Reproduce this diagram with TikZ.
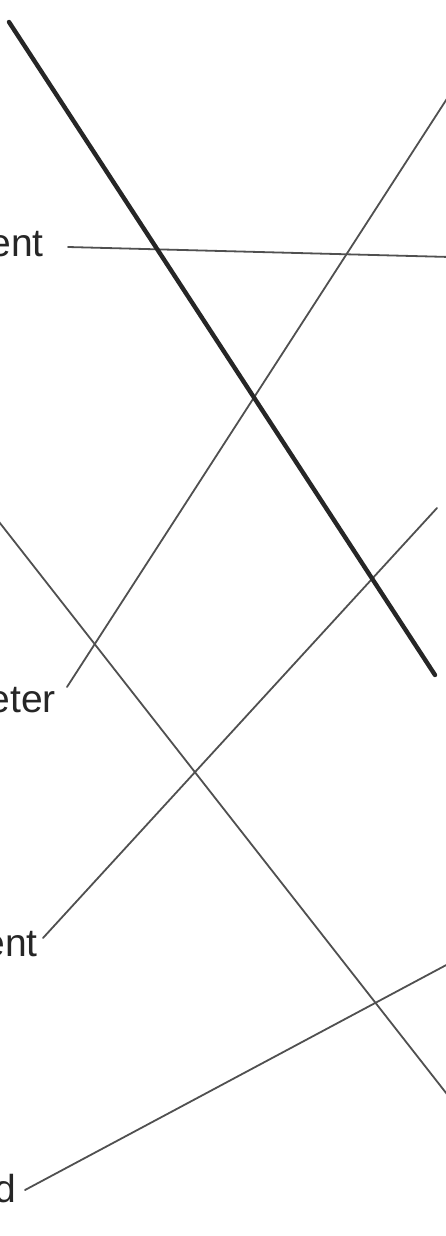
\documentclass[tikz,border=0pt]{standalone}
\usepackage{fontspec}
\setmainfont{Liberation Sans}
\definecolor{ink}{HTML}{262626}
\definecolor{pencil}{HTML}{505050}
\begin{document}
\begin{tikzpicture}[
		x=1pt, y=-1pt,
		l/.style = {anchor=base east, inner sep=0, text=ink, font=\fontsize{39}{42}\selectfont},
		t/.style = {draw=pencil, line width=1.8pt, line cap=round},
		k/.style = {draw=ink, line width=4.4pt, line cap=round}
		]
		\useasboundingbox	(0, 0)	rectangle	(446, 1236);
		\clip	(0, 0)	rectangle	(446, 1236);
		\fill[white]	(0, 0)	rectangle	(446, 1236);
		
		% labels (cut at the left edge)
		\node[l]	(ent1)	at	(44, 256)	{ent};
		\node[l]	(eter)	at	(56, 712)	{eter};
		\node[l]	(ent2)	at	(38, 956)	{ent};
		\node[l]	(dd)	at	(16, 1202)	{d};
		
		% free ends of the lines
		\coordinate	(a0)	at	(68, 247);
		\coordinate	(a1)	at	(450, 257);
		\coordinate	(b0)	at	(67, 687);
		\coordinate	(b1)	at	(450, 94);
		\coordinate	(c0)	at	(-4, 518);
		\coordinate	(c1)	at	(450, 1098);
		\coordinate	(d0)	at	(43, 938);
		\coordinate	(d1)	at	(437, 508);
		\coordinate	(e0)	at	(25, 1190);
		\coordinate	(e1)	at	(450, 963);
		\coordinate	(k0)	at	(9, 22);
		\coordinate	(k1)	at	(435, 675);
		
		\draw[t]	(a0)	--	(a1);
		\draw[t]	(b0)	--	(b1);
		\draw[t]	(c0)	--	(c1);
		\draw[t]	(d0)	--	(d1);
		\draw[t]	(e0)	--	(e1);
		\draw[k]	(k0)	--	(k1);
\end{tikzpicture}
\end{document}
